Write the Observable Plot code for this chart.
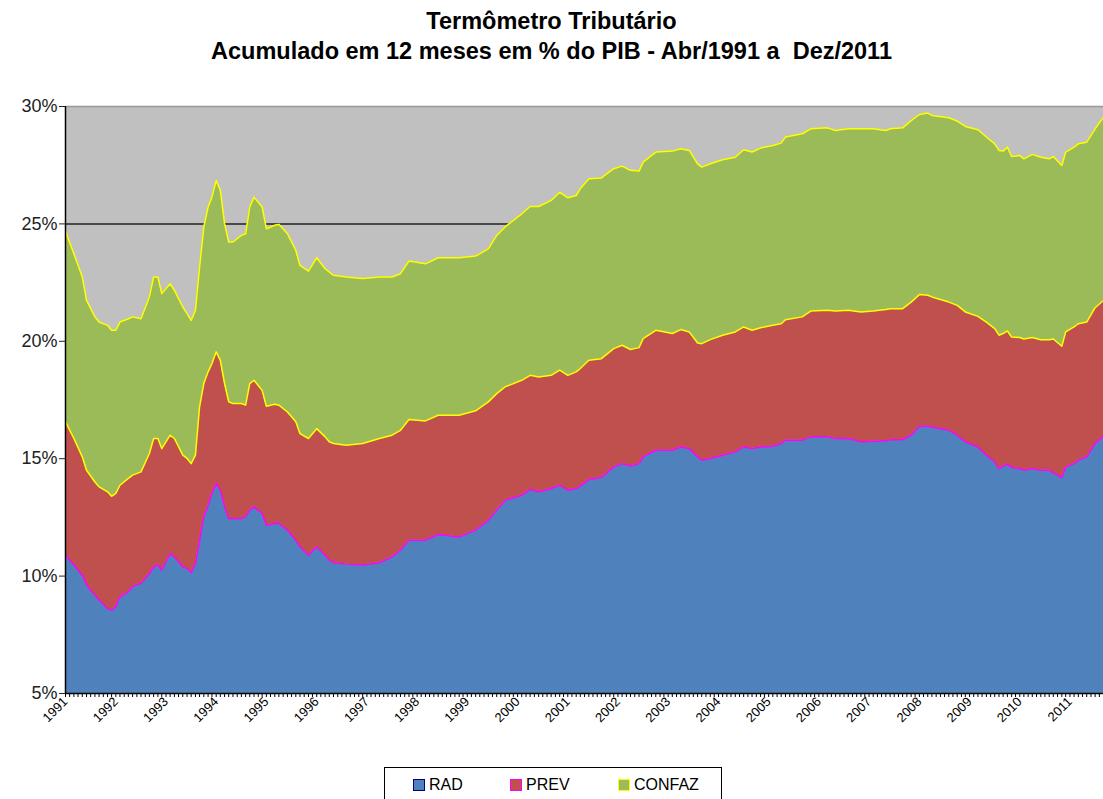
<!DOCTYPE html>
<html>
<head>
<meta charset="utf-8">
<script src="https://cdn.jsdelivr.net/npm/d3@7"></script>
<script src="https://cdn.jsdelivr.net/npm/@observablehq/plot@0.6"></script>
<style>
  html, body { margin: 0; padding: 0; background: #fff; }
  body { width: 1103px; height: 799px; position: relative; overflow: hidden; font-family: "Liberation Sans", Arial, sans-serif; }
  #title { position: absolute; top: 6px; left: 0; width: 1103px; text-align: center; font-weight: bold; font-size: 23.5px; line-height: 30px; color: #000; }
  #chart { position: absolute; top: 80px; left: 0; }
  #legend { position: absolute; top: 767px; left: 384px; width: 338px; height: 34px; border: 1px solid #000; box-sizing: border-box; display: flex; align-items: center; font-size: 16px; color: #000; }
  .item { position: absolute; top: 8px; display: flex; align-items: center; }
  .sw { width: 10px; height: 10px; border: 1px solid; margin-right: 4px; }
</style>
</head>
<body>
<div id="title">Termômetro Tributário<br>Acumulado em 12 meses em % do PIB - Abr/1991 a&nbsp; Dez/2011</div>
<div id="chart"></div>
<div id="legend"></div>
<script>
// Series names and colours
const seriesNames = ["RAD", "PREV", "CONFAZ"];
const fillColors = ["#4F81BD", "#C0504D", "#9BBB59"];
const edgeColors = ["#FF00FF", "#FFFF00", "#FFFF00"];
const legendBorders = ["#000080", "#FF00FF", "#FFFF00"];

// Dates (month of the 12-month accumulated figure)
const dates = [
  "1991-04","1991-06","1991-08","1991-09","1991-11","1991-12",
  "1992-02","1992-03","1992-04","1992-05","1992-07","1992-08","1992-10","1992-12",
  "1993-01","1993-02","1993-03","1993-05","1993-06","1993-08","1993-09","1993-10","1993-11","1993-12",
  "1994-01","1994-02","1994-03","1994-04","1994-05","1994-06","1994-07","1994-08","1994-10","1994-11","1994-12",
  "1995-01","1995-03","1995-04","1995-06","1995-07","1995-09","1995-11","1995-12",
  "1996-02","1996-04","1996-06","1996-07","1996-08","1996-11",
  "1997-03","1997-07","1997-10","1997-12",
  "1998-02","1998-06","1998-09",
  "1999-02","1999-06","1999-09","1999-11",
  "2000-01","2000-05","2000-07","2000-09","2000-12",
  "2001-02","2001-04","2001-06","2001-07","2001-09","2001-12",
  "2002-03","2002-05","2002-07","2002-09","2002-10",
  "2003-01","2003-05","2003-07","2003-09","2003-11","2003-12",
  "2004-02","2004-05","2004-08","2004-10","2004-12",
  "2005-02","2005-05","2005-07","2005-08","2005-12",
  "2006-02","2006-06","2006-08","2006-11",
  "2007-02","2007-05","2007-08","2007-09","2007-12",
  "2008-02","2008-04","2008-06","2008-07","2008-11",
  "2009-01","2009-03","2009-06","2009-08","2009-10","2009-11","2009-12",
  "2010-01","2010-02","2010-04","2010-05","2010-07","2010-09","2010-11","2010-12",
  "2011-02","2011-03","2011-05","2011-06","2011-08","2011-10","2011-12"
];

// RAD (% of GDP)
const rad = [
  10.89,10.47,10.04,9.62,9.19,8.98,
  8.62,8.55,8.70,9.12,9.33,9.57,9.69,10.11,
  10.40,10.47,10.26,10.96,10.82,10.40,10.33,10.14,10.54,11.53,
  12.53,13.02,13.52,13.94,13.66,12.95,12.45,12.45,12.45,12.53,12.81,
  12.95,12.67,12.17,12.24,12.24,11.96,11.53,11.25,
  10.89,11.25,10.89,10.68,10.57,10.51,
  10.47,10.57,10.82,11.11,
  11.53,11.53,11.77,
  11.67,11.96,12.38,12.81,
  13.23,13.44,13.69,13.59,13.73,
  13.87,13.66,13.73,13.83,14.11,14.20,
  14.65,14.79,14.69,14.79,15.08,
  15.36,15.36,15.50,15.43,15.08,14.94,
  15.01,15.15,15.29,15.50,15.43,
  15.50,15.53,15.65,15.79,15.79,
  15.93,15.93,15.86,15.86,
  15.72,15.74,15.76,15.81,15.81,
  16.00,16.38,16.38,16.35,16.21,
  16.00,15.72,15.50,15.15,14.87,14.58,14.68,
  14.77,14.63,14.58,14.51,14.58,14.51,14.51,14.40,
  14.20,14.65,14.79,14.94,15.08,15.65,15.96
];

// PREV (% of GDP)
const prev = [
  5.68,5.39,5.04,4.89,4.82,4.82,
  4.97,4.85,4.82,4.75,4.83,4.73,4.75,5.11,
  5.46,5.39,5.17,5.04,5.04,4.75,4.68,4.65,4.61,5.68,
  5.67,5.68,5.53,5.61,5.53,5.25,4.97,4.90,4.90,4.75,5.39,
  5.39,5.24,5.06,5.08,5.04,5.03,5.04,4.82,
  4.97,5.03,5.04,5.04,5.08,5.06,
  5.18,5.29,5.18,5.10,
  5.14,5.08,5.08,
  5.18,5.08,5.04,4.96,
  4.83,4.90,4.86,4.89,4.82,
  4.90,4.89,4.97,5.01,5.08,5.06,
  5.04,5.04,4.96,4.94,5.03,
  5.11,4.97,5.00,4.97,4.85,4.96,
  5.06,5.11,5.11,5.11,5.04,
  5.08,5.15,5.10,5.13,5.25,
  5.36,5.39,5.43,5.46,
  5.53,5.55,5.59,5.58,5.58,
  5.67,5.61,5.58,5.54,5.46,
  5.53,5.53,5.56,5.67,5.67,5.68,5.65,
  5.67,5.55,5.58,5.59,5.58,5.56,5.56,5.70,
  5.59,5.75,5.82,5.81,5.74,5.78,5.78
];

// CONFAZ (% of GDP)
const confaz = [
  8.11,7.87,7.66,7.23,7.03,7.02,
  7.09,7.07,6.95,6.95,6.80,6.74,6.52,6.67,
  6.88,6.88,6.60,6.45,6.31,6.31,6.17,6.10,6.17,5.95,
  6.67,7.02,7.09,7.30,7.24,6.81,6.81,6.88,7.16,7.30,7.52,
  7.80,7.81,7.56,7.62,7.70,7.59,7.30,7.16,
  7.13,7.28,7.16,7.23,7.16,7.17,
  7.02,6.88,6.74,6.67,
  6.75,6.69,6.71,
  6.71,6.59,6.52,6.74,
  6.81,7.09,7.19,7.26,7.45,
  7.58,7.56,7.51,7.66,7.73,7.70,
  7.66,7.63,7.63,7.52,7.52,
  7.59,7.77,7.70,7.73,7.63,7.52,
  7.49,7.47,7.44,7.55,7.59,
  7.65,7.66,7.69,7.78,7.80,
  7.76,7.77,7.69,7.73,
  7.80,7.76,7.63,7.66,7.70,
  7.73,7.67,7.76,7.73,7.85,
  7.85,7.90,7.95,7.88,7.87,7.87,7.77,
  7.83,7.69,7.75,7.67,7.80,7.77,7.70,7.77,
  7.70,7.66,7.66,7.66,7.66,7.62,7.81
];

// Axis ticks
const yTicks = [5, 10, 15, 20, 25, 30];
const yearLabels = d3.range(1991, 2012);

const parse = d3.utcParse("%Y-%m");
const values = [rad, prev, confaz];
const long = [];
dates.forEach((d, i) => {
  seriesNames.forEach((s, k) => long.push({date: parse(d), series: s, value: values[k][i]}));
});

const start = parse(dates[0]);
const end = parse(dates[dates.length - 1]);
const monthTicks = d3.utcMonth.range(start, d3.utcMonth.offset(end, 1));
const yearTicks = yearLabels.map(y => d3.utcMonth.offset(start, (y - 1991) * 12));
const edgeOf = Object.fromEntries(seriesNames.map((s, k) => [s, edgeColors[k]]));

const chart = Plot.plot({
  width: 1103,
  height: 680,
  marginTop: 26,
  marginLeft: 65,
  marginRight: 0,
  marginBottom: 67,
  style: {fontFamily: "'Liberation Sans', Arial, sans-serif", background: "transparent", overflow: "visible"},
  x: {type: "utc", domain: [start, end]},
  y: {domain: [5, 30]},
  color: {domain: seriesNames, range: fillColors},
  marks: [
    Plot.frame({fill: "#C0C0C0", stroke: null}),
    Plot.ruleY([25], {stroke: "#222", strokeWidth: 1.5}),
    Plot.ruleY([30], {stroke: "#999", strokeWidth: 1.5}),
    Plot.areaY(long, {x: "date", y: "value", fill: "series", order: seriesNames, clip: true}),
    Plot.lineY(long, Plot.stackY2({x: "date", y: "value", z: "series", order: seriesNames,
      stroke: d => edgeOf[d.series], strokeWidth: 1.5, clip: true})),
    Plot.ruleX([start], {stroke: "#000", strokeWidth: 1.5}),
    Plot.ruleY([5], {stroke: "#000", strokeWidth: 1.5}),
    Plot.axisY({ticks: yTicks, tickFormat: d => d + "%", tickSize: 6, tickPadding: 2, fontSize: 18, color: "#222", label: null}),
    Plot.axisX({ticks: monthTicks, tickSize: 4, tickFormat: () => "", label: null, color: "#000"}),
    Plot.axisX({ticks: yearTicks, tickSize: 0, tickPadding: 6, tickRotate: -45, fontSize: 13, tickFormat: d3.utcFormat("%Y"), label: null, color: "#000"})
  ]
});
document.getElementById("chart").appendChild(chart);

// Legend
const legend = document.getElementById("legend");
const lefts = [28, 125, 233];
seriesNames.forEach((s, k) => {
  const it = document.createElement("div");
  it.className = "item";
  it.style.left = lefts[k] + "px";
  it.innerHTML = `<span class="sw" style="background:${fillColors[k]};border-color:${legendBorders[k]}"></span><span>${s}</span>`;
  legend.appendChild(it);
});
</script>
</body>
</html>
